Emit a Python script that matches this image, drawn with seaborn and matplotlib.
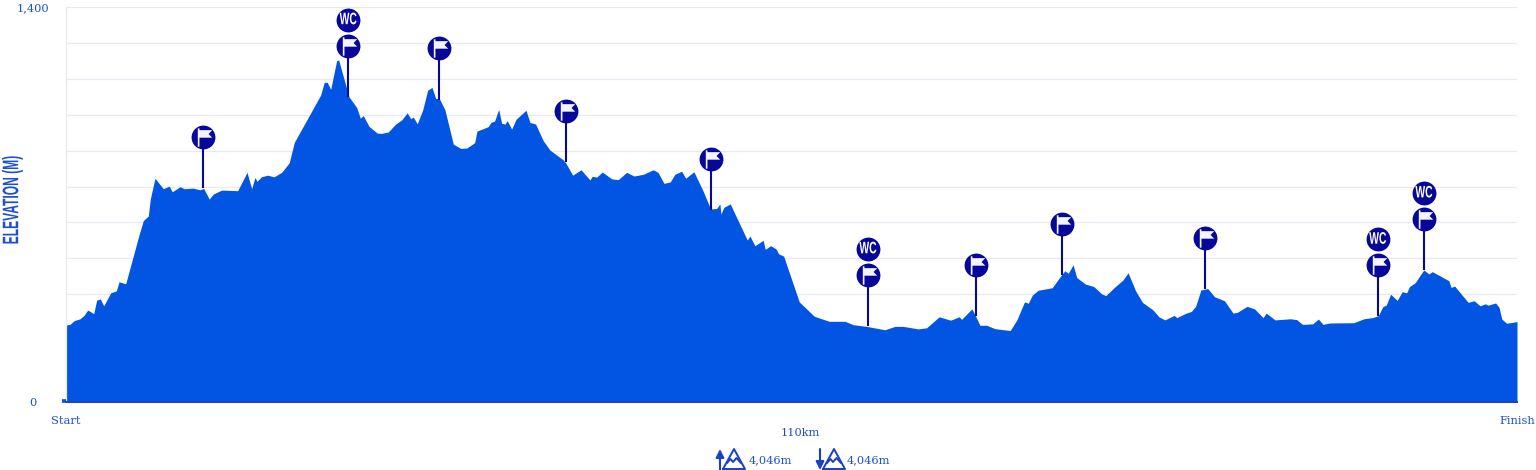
import numpy as np
import pandas as pd
import seaborn as sns
import matplotlib.pyplot as plt
from matplotlib.lines import Line2D
from matplotlib.path import Path
from matplotlib.patheffects import AbstractPathEffect
from matplotlib.transforms import Affine2D, IdentityTransform

km = [0, .61, 1.21, 2.12, 2.73, 3.29, 4.2, 4.65, 5.2, 5.72, 6.78, 7.63, 8.04, 9.05, 11.07, 11.72, 12.48, 12.78,
      13.49, 14.75, 15.66, 16.11, 17.28, 17.93, 19.3, 20.31, 20.87, 21.72, 22.33, 23.6, 26.03, 27.44, 28.15, 28.65,
      28.96, 29.61, 30.58, 31.53, 32.7, 33.85, 34.61, 38.61, 39.16, 39.61, 40.13, 41.04, 41.34, 42.9, 44.07, 44.62,
      45.07, 45.94, 47.19, 47.86, 48.86, 49.98, 50.9, 51.74, 52.26, 52.65, 53.26, 54.08, 54.83, 55.49, 56.05, 56.59,
      57.46, 58.72, 59.83, 60.75, 61.96, 62.31, 64.02, 64.43, 64.99, 65.6, 66.05, 66.55, 66.9, 67.57, 68.23, 69.74,
      70.34, 71.2, 72.36, 73.37, 75.39, 75.8, 76.82, 78.08, 79.44, 79.79, 80.46, 81.31, 82.73, 83.73, 85.0, 86.11,
      87.52, 89.03, 89.75, 90.66, 91.61, 92.32, 93.34, 93.95, 95.2, 96.53, 97.74, 98.65, 99.15, 99.3, 99.75, 100.71,
      103.29, 103.7, 104.45, 105.71, 106.01, 106.83, 107.64, 108.05, 108.81, 111.17, 113.44, 115.72, 118.1, 119.35,
      121.38, 124.16, 125.68, 126.94, 129.21, 130.48, 132.39, 134.12, 135.42, 135.79, 137.35, 137.96, 138.56, 139.58,
      140.84, 143.16, 144.17, 145.33, 145.9, 146.52, 147.4, 149.52, 150.92, 151.45, 151.96, 152.69, 153.25, 154.56,
      155.84, 157.04, 157.66, 158.95, 160.24, 161.03, 162.17, 163.21, 164.82, 165.7, 166.61, 168.04, 168.4, 169.84,
      170.63, 171.29, 172.07, 173.11, 174.14, 175.64, 176.95, 177.61, 179.07, 180.21, 181.5, 181.97, 183.31, 185.65,
      186.59, 187.47, 189.02, 189.89, 190.58, 191.6, 195.23, 196.79, 198.08, 198.98, 199.65, 200.16, 200.84, 201.83,
      202.6, 203.27, 203.69, 204.57, 205.86, 206.63, 207.16, 209.65, 210.02, 210.53, 212.6, 213.48, 214.41, 215.2,
      215.61, 216.75, 217.27, 217.69, 218.42, 220]
elevation = [273, 275, 288, 295, 307, 326, 313, 361, 365, 341, 387, 394, 426, 419, 592, 643, 659, 719,
             793, 756, 765, 745, 763, 756, 758, 752, 757, 719, 737, 751, 749, 814, 756, 796,
             782, 798, 804, 798, 814, 848, 920, 1088, 1133, 1133, 1108, 1210, 1212, 1082, 1044, 1006,
             1015, 977, 953, 952, 957, 985, 1000, 1025, 1004, 1010, 986, 1035, 1105, 1115, 1076, 1076,
             1035, 914, 899, 900, 919, 960, 976, 991, 996, 1037, 988, 985, 997, 967, 1002, 1034,
             991, 985, 926, 893, 858, 846, 804, 823, 787, 800, 797, 815, 791, 788, 814, 801,
             807, 823, 814, 775, 780, 807, 818, 793, 816, 751, 684, 686, 702, 666, 690, 702,
             574, 588, 554, 573, 541, 554, 543, 525, 517, 355, 304, 286, 286, 274,
             268, 256, 268, 268, 259, 263, 302, 290, 302, 293, 330, 302, 272, 272,
             260, 253, 291, 355, 350, 379, 396, 405, 450, 465, 456, 486, 441, 418,
             409, 383, 377, 406, 432, 458, 394, 353, 326, 302, 291, 307, 299, 315,
             321, 340, 397, 402, 373, 359, 315, 318, 339, 330, 299, 315, 291, 295,
             292, 275, 277, 294, 275, 280, 281, 295, 299, 306, 338, 343, 382, 360,
             391, 387, 409, 423, 468, 454, 462, 430, 406, 411, 353, 359, 341, 348,
             343, 351, 336, 294, 279, 285]

flag_km = [20.8, 42.8, 56.6, 75.8, 97.8, 121.6, 138.0, 151.0, 172.7, 198.9, 205.9]
flag_elev = [758, 1082, 1072, 850, 680, 270, 305, 450, 400, 304, 468]
wc_km = [42.8, 121.6, 198.9, 205.9]
wc_elev = [1082, 270, 304, 468]

grid_ticks = [i * 1400 / 11 for i in range(12)]
grid_labels = ['0', '', '', '', '', '', '', '', '', '', '', '1,400']

BLUE = '#0254e2'
NAVY = '#07079a'
TEXT = '#1d4fd6'
ICON = '#1a3fc8'
GRID = '#e9e9f6'
PIN = 181    # pin length, metres on the y scale
WC_GAP = 92


class Squeeze(AbstractPathEffect):
    # condensed display font is not installed, narrow the glyphs about their centre
    def __init__(self, sx=1.0, sy=1.0):
        super().__init__()
        self.sx, self.sy = sx, sy

    def draw_path(self, renderer, gc, tpath, affine, rgbFace=None):
        box = affine.transform_path(tpath).get_extents()
        cx, cy = (box.x0 + box.x1) / 2, (box.y0 + box.y1) / 2
        squeeze = Affine2D().translate(-cx, -cy).scale(self.sx, self.sy).translate(cx, cy)
        renderer.draw_path(gc, tpath, affine + squeeze, rgbFace)


flag_marker = Path([(-.62, 1), (-.44, 1), (-.44, .8), (.95, .8), (.55, .38), (.95, -.02), (-.44, -.02),
                    (-.44, -1), (-.62, -1), (-.62, 1)], closed=True)

sns.set_theme(style='white')
plt.rcParams['font.family'] = ['DejaVu Serif']
NARROW = ['Liberation Sans Narrow', 'Liberation Sans']

fig = plt.figure(figsize=(15.36, 4.70), dpi=100)
ax = fig.add_axes([66 / 1536, 1 - 402 / 470, 1451 / 1536, 395 / 470])

df = pd.DataFrame({'km': km, 'elevation': elevation})
ax.fill_between(df['km'], df['elevation'], 0, color=BLUE, lw=0, zorder=2)

flags = pd.DataFrame({'km': flag_km, 'y': np.array(flag_elev) + PIN})
wcs = pd.DataFrame({'km': wc_km, 'y': np.array(wc_elev) + PIN + WC_GAP})
ax.vlines(flag_km, flag_elev, flags['y'], color=NAVY, lw=1.5, zorder=3)
sns.scatterplot(data=flags, x='km', y='y', s=295, color=NAVY, lw=0, ax=ax, zorder=4, clip_on=False)
sns.scatterplot(data=wcs, x='km', y='y', s=295, color=NAVY, lw=0, ax=ax, zorder=4, clip_on=False)
ax.scatter(flag_km, flags['y'], s=175, marker=flag_marker, color='#f4f5fb', lw=0, zorder=5, clip_on=False)
for x, y in zip(wc_km, wcs['y']):
    ax.text(x, y, 'WC', color='white', ha='center', va='center', family=NARROW, weight='bold', fontsize=12,
            zorder=5, path_effects=[Squeeze(sx=.62)])

ax.set_xlim(0, 220)
ax.set_ylim(0, 1400)
ax.set_yticks(grid_ticks, grid_labels, color=TEXT, fontsize=8.2, ha='center')
ax.set_xticks([0, 220], ['Start', 'Finish'], color=TEXT, fontsize=8.2)
ax.tick_params(axis='x', length=0, pad=10)
ax.tick_params(axis='y', length=0, pad=23.5)
ax.grid(axis='y', color=GRID, lw=.9, zorder=0)
ax.set_axisbelow(True)
for side in ['top', 'right']:
    ax.spines[side].set_visible(False)
ax.spines['left'].set_color(GRID)
ax.spines['left'].set_linewidth(.9)
ax.spines['bottom'].set_color('#1443cf')
ax.spines['bottom'].set_linewidth(1.4)
ax.spines['bottom'].set_zorder(6)

ax.set_ylabel('')
ax.set_xlabel('110km', color=TEXT, fontsize=8.2)
ax.xaxis.set_label_coords((800 - 66) / 1451, -(433 - 402) / 395, transform=ax.transAxes)
ax.xaxis.label.set_va('center')

fig.text(12 / 1536, 1 - 200 / 470, 'ELEVATION (M)', rotation=90, color=TEXT, family=NARROW, weight='bold',
         fontsize=17, ha='center', va='center', path_effects=[Squeeze(sx=.95, sy=.51)])

# small stub at the left of the baseline
fig.add_artist(Line2D([62, 66], [470 - 401.3] * 2, color=BLUE, lw=2.6, solid_capstyle='butt',
                      transform=IdentityTransform()))


def updown(x0, up):
    # arrow and mountain icon in the footer, x0 is the arrow pixel column
    tail, head = (470, 449) if up else (449, 470)
    ax.annotate('', xy=(x0, 470 - head), xytext=(x0, 470 - tail), xycoords='figure pixels', textcoords='figure pixels',
                arrowprops=dict(arrowstyle='-|>,head_width=.2,head_length=.4', color=ICON,
                                lw=1.5, shrinkA=0, shrinkB=0, mutation_scale=12))
    mx = x0 + 14
    tri = [(mx - 11, 469), (mx, 449), (mx + 11, 469), (mx - 11, 469)]
    snow = [(mx - 7, 463), (mx - 3.5, 459), (mx - 1, 462), (mx + 2.5, 458), (mx + 7, 463)]
    for pts in [tri, snow]:
        xs, ys = zip(*pts)
        fig.add_artist(Line2D(xs, [470 - y for y in ys], color=ICON, lw=1.4, transform=IdentityTransform()))


updown(720, True)
updown(820, False)
fig.text(749 / 1536, 1 - 460.5 / 470, '4,046m', color=TEXT, fontsize=8.2, va='center')
fig.text(847 / 1536, 1 - 460.5 / 470, '4,046m', color=TEXT, fontsize=8.2, va='center')

fig.savefig('out.png', dpi=100)
